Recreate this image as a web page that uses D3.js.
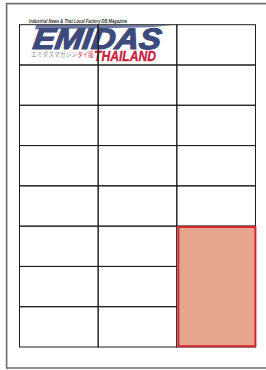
<!DOCTYPE html>
<html>
<head>
<meta charset="utf-8">
<script src="https://cdn.jsdelivr.net/npm/d3@7"></script>
<style>
  html, body { margin: 0; padding: 0; background: #fff; }
  svg { display: block; }
</style>
</head>
<body>
<script>
// layout grid data
const columns = ["A", "B", "C"];
const rows = [1, 2, 3, 4, 5, 6, 7, 8];
// booked slot: column C, rows 6 to 8
const highlightCol = "C";
const highlightRows = [6, 7, 8];
const tagline = "Industrial News & Thai Local Factory DB Magazine";
const brand = "EMIDAS";
const brandSub = "THAILAND";
const kanaGray = "エミダスマガジン";
const kanaRed = "タイ版";

const w = 266, h = 370;
const grid = { left: 19.5, right: 255.5, top: 24.7, bottom: 347 };

const svg = d3.select("body")
    .append("svg")
    .attr("width", w)
    .attr("height", h);

// Page outline with a soft shadow
svg.append("path")
    .attr("d", `M7.5,${h} L7.5,4.5 L${w + 2},4.5`)
    .attr("fill", "none")
    .attr("stroke", "#d8d8d8")
    .attr("stroke-width", 1);
svg.append("path")
    .attr("d", `M${w + 2},368 L6.5,368 L6.5,3.5 L${w + 2},3.5`)
    .attr("fill", "none")
    .attr("stroke", "#6e6e6e")
    .attr("stroke-width", 1.4);

// Scales
const xScale = d3.scaleBand()
    .domain(columns)
    .range([grid.left, grid.right]);

const yScale = d3.scaleBand()
    .domain(rows)
    .range([grid.top, grid.bottom]);

// Logo
const logo = svg.append("g").attr("id", "logo");

logo.append("text")
    .attr("x", 29)
    .attr("y", 22.6)
    .attr("textLength", 98)
    .attr("lengthAdjust", "spacingAndGlyphs")
    .attr("font-family", "Liberation Sans, Arial, sans-serif")
    .attr("font-size", 4.6)
    .attr("font-weight", "bold")
    .attr("font-style", "italic")
    .attr("fill", "#333")
    .text(tagline);

// swoosh above the brand name
logo.append("path")
    .attr("d", "M36,25 L172,25.3 L150,27.2 L60,29 L35,29.5 Z")
    .attr("fill", "#6f7aa3");

logo.append("g")
    .attr("transform", "translate(0,49) skewX(-8) translate(0,-49)")
    .append("text")
    .attr("x", 32)
    .attr("y", 49)
    .attr("textLength", 128)
    .attr("lengthAdjust", "spacingAndGlyphs")
    .attr("font-family", "Liberation Sans, Arial, sans-serif")
    .attr("font-size", 29.5)
    .attr("font-weight", "bold")
    .attr("font-style", "italic")
    .attr("fill", "#3e4a7c")
    .attr("stroke", "#3e4a7c")
    .attr("stroke-width", 1.2)
    .text(brand);

logo.append("text")
    .attr("x", 31)
    .attr("y", 56.5)
    .attr("textLength", 46)
    .attr("lengthAdjust", "spacingAndGlyphs")
    .attr("font-family", "Noto Sans CJK JP, sans-serif")
    .attr("font-size", 6.5)
    .attr("fill", "#8a8a8a")
    .text(kanaGray);

logo.append("text")
    .attr("x", 77.5)
    .attr("y", 56.5)
    .attr("textLength", 16)
    .attr("lengthAdjust", "spacingAndGlyphs")
    .attr("font-family", "Noto Sans CJK JP, sans-serif")
    .attr("font-size", 6.5)
    .attr("fill", "#d0314a")
    .text(kanaRed);

logo.append("text")
    .attr("x", 94)
    .attr("y", 61)
    .attr("textLength", 62)
    .attr("lengthAdjust", "spacingAndGlyphs")
    .attr("font-family", "Liberation Sans, Arial, sans-serif")
    .attr("font-size", 14)
    .attr("font-weight", "bold")
    .attr("font-style", "italic")
    .attr("fill", "#c8203c")
    .attr("stroke", "#c8203c")
    .attr("stroke-width", 0.3)
    .text(brandSub);

// Grid cells
const cells = [];
rows.forEach(r => columns.forEach(c => cells.push({ row: r, col: c })));

svg.append("g")
    .attr("id", "grid")
    .selectAll("rect")
    .data(cells)
    .enter()
    .append("rect")
    .attr("x", d => xScale(d.col))
    .attr("y", d => yScale(d.row))
    .attr("width", xScale.bandwidth())
    .attr("height", yScale.bandwidth())
    .attr("fill", "none")
    .attr("stroke", "#1e1e1e")
    .attr("stroke-width", 1);

// Highlighted slot
const hy0 = yScale(highlightRows[0]);
const hy1 = yScale(highlightRows[highlightRows.length - 1]) + yScale.bandwidth();

svg.append("rect")
    .attr("x", xScale(highlightCol) + 0.5)
    .attr("y", hy0)
    .attr("width", xScale.bandwidth())
    .attr("height", hy1 - hy0)
    .attr("fill", "#fff");

svg.append("rect")
    .attr("x", xScale(highlightCol) + 1.5)
    .attr("y", hy0 + 0.8)
    .attr("width", xScale.bandwidth() - 1.6)
    .attr("height", hy1 - hy0 - 1.6)
    .attr("fill", "#e8a58d")
    .attr("stroke", "#d3262f")
    .attr("stroke-width", 2);
</script>
</body>
</html>
